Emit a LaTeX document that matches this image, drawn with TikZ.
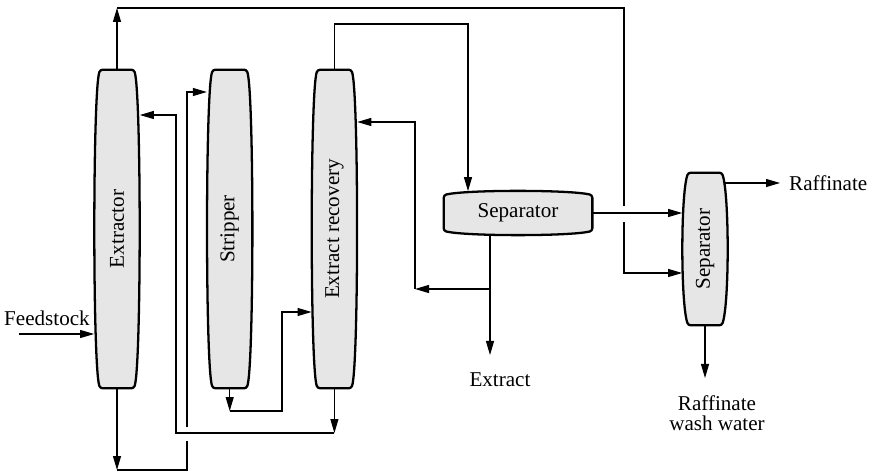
\documentclass[tikz,border=0pt]{standalone}
\usepackage{fontspec}
\setmainfont{Liberation Serif}
\usepackage{tikz}
\usetikzlibrary{arrows.meta,positioning,calc,backgrounds}
\definecolor{colgray}{RGB}{230,230,230}
\tikzset{
  colbox/.style  ={minimum width=0.9cm, minimum height=#1, inner sep=0pt},
  colbox/.default=6.36cm,
  drumbox/.style ={minimum width=2.96cm, minimum height=0.86cm, inner sep=0pt},
  colshape/.style={draw, line width=1.3pt, fill=colgray, rounded corners=1.5pt},
  ln/.style      ={line width=0.6pt},
  arr/.style     ={-{Triangle[length=2.8mm,width=1.6mm]}, line width=0.6pt},
}
% barrel outline behind a vertical column node
\newcommand{\vcol}[1]{%
  \begin{scope}[on background layer]
    \draw[colshape] (#1.north) -- ($(#1.north east)+(-0.12,0)$)
      .. controls ($(#1.north east)+(0.03,-0.45)$) and ($(#1.south east)+(0.03,0.45)$) .. ($(#1.south east)+(-0.12,0)$)
      -- ($(#1.south west)+(0.12,0)$)
      .. controls ($(#1.south west)+(-0.03,0.45)$) and ($(#1.north west)+(-0.03,-0.45)$) .. ($(#1.north west)+(0.12,0)$)
      -- cycle;
  \end{scope}}
% same outline for a horizontal drum
\newcommand{\hcol}[1]{%
  \begin{scope}[on background layer]
    \draw[colshape] (#1.west) -- ($(#1.south west)+(0,0.08)$)
      .. controls ($(#1.south west)+(0.45,-0.03)$) and ($(#1.south east)+(-0.45,-0.03)$) .. ($(#1.south east)+(0,0.08)$)
      -- ($(#1.north east)+(0,-0.08)$)
      .. controls ($(#1.north east)+(-0.45,0.03)$) and ($(#1.north west)+(0.45,0.03)$) .. ($(#1.north west)+(0,-0.08)$)
      -- cycle;
  \end{scope}}

\begin{document}
\begin{tikzpicture}[font=\fontsize{12}{14}\selectfont]
  \useasboundingbox (0,0) rectangle (17.5,-9.48);
  % columns
  \node[colbox] (extr) at (2.34,-4.58) {\rotatebox{90}{Extractor}};
  \node[colbox, right=1.34cm of extr] (strip) {\rotatebox{90}{Stripper}};
  \node[colbox, right=1.18cm of strip] (extrec) {\rotatebox{90}{Extract recovery}};
  \node[drumbox] (sep1) at (10.36,-4.26) {Separator};
  \node[colbox=3.04cm] (sep2) at (14.1,-4.98) {\rotatebox{90}{Separator}};
  \vcol{extr}
  \vcol{strip}
  \vcol{extrec}
  \hcol{sep1}
  \vcol{sep2}

  % overhead of extractor to second separator
  \coordinate (topl) at (extr.north |- 0,-0.16);
  \coordinate (gap1a) at (12.48,-4.12);
  \coordinate (gap1b) at (12.48,-4.44);
  \draw[arr] (extr.north) -- (topl);
  \draw[ln] (topl) -| (gap1a);
  \draw[arr] (gap1b) |- (sep2.west |- 0,-5.46);

  % feed
  \node (feed) at (0.94,-6.36) {Feedstock};
  \coordinate (feedin) at (0.38,-6.68);
  \draw[arr] (feedin) -- (feedin -| extr.west);

  % extractor bottoms to stripper
  \coordinate (exb) at (extr.south |- 0,-9.4);
  \coordinate (gap2a) at (3.74,-8.82);
  \coordinate (gap2b) at (3.74,-8.54);
  \draw[arr] (extr.south) -- (exb);
  \draw[ln] (exb) -| (gap2a);
  \draw[arr] (gap2b) |- (strip.west |- 0,-1.84);

  % extract recovery bottoms back to extractor
  \coordinate (erb) at (extrec.south |- 0,-8.66);
  \coordinate (rec1) at (3.52,-2.3);
  \draw[arr] (extrec.south) -- (erb);
  \draw[arr] (erb) -| (rec1) -- (rec1 -| extr.east);

  % stripper bottoms to extract recovery
  \coordinate (stb) at (strip.south |- 0,-8.22);
  \coordinate (st1) at (5.64,-6.24);
  \draw[arr] (strip.south) -- (stb);
  \draw[arr] (stb) -| (st1) -- (st1 -| extrec.west);

  % extract recovery overhead to separator
  \coordinate (ert) at (9.36,-0.48);
  \draw[arr] (extrec.north) |- (ert) -- (ert |- sep1.north);

  % separator bottoms
  \coordinate (s1b) at (9.8,-7.1);
  \coordinate (s1j) at (9.8,-5.78);
  \coordinate (s1c) at (8.3,-5.78);
  \coordinate (s1u) at (8.3,-2.44);
  \draw[arr] (s1b |- sep1.south) -- (s1b);
  \node (extract) at (10.0,-7.6) {Extract};
  \draw[arr] (s1j) -- (s1c);
  \draw[arr] (s1c) -- (s1u) -- (s1u -| extrec.east);

  % separator to separator
  \draw[arr] (sep1.east) -- (sep1.east -| sep2.west);

  % raffinate
  \coordinate (raf) at (15.6,-3.66);
  \draw[arr] ($(raf -| sep2.east)+(-0.07,0)$) -- (raf);
  \node[right=0.06cm of raf] (raftxt) {Raffinate};
  \coordinate (s2b) at (14.1,-7.56);
  \draw[arr] (sep2.south) -- (s2b);
  \node[align=center, font=\fontsize{12}{11.5}\selectfont] (wash) at (14.34,-8.26) {Raffinate\\wash water};
\end{tikzpicture}
\end{document}
